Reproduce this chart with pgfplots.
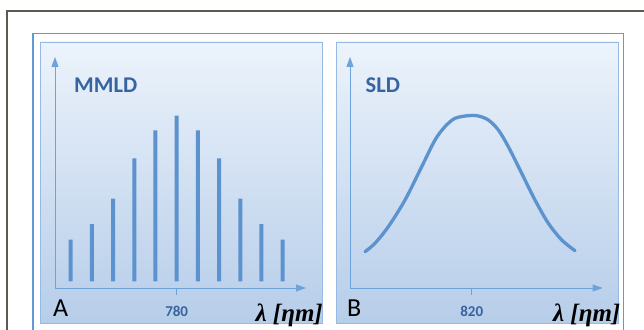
\documentclass[border=0pt]{standalone}
\usepackage{pgfplots}
\pgfplotsset{compat=1.18}
\usetikzlibrary{arrows.meta}
\usepackage{fontspec}
\setmainfont{Carlito}
\newfontfamily\lbi{Liberation Serif}[BoldItalicFont={* Bold Italic}]
\definecolor{barc}{RGB}{92,146,206}
\definecolor{axc}{RGB}{110,162,218}
\definecolor{ptop}{RGB}{236,243,251}
\definecolor{pbot}{RGB}{182,205,233}
\definecolor{pedge}{RGB}{150,186,228}
\definecolor{framec}{RGB}{98,152,214}
\definecolor{brd}{RGB}{92,90,80}
\definecolor{txt}{RGB}{55,100,160}
\pgfplotsset{myax/.style={
  scale only axis, anchor=south west, enlargelimits=false, clip=false,
  axis lines=left,
  axis line style={axc, line width=0.9pt, -{Triangle[width=7pt,length=10pt]}},
  ytick=\empty, tick align=outside, major tick length=7pt,
  xtick style={axc, line width=0.8pt},
  xticklabel style={font=\bfseries\fontsize{15}{15}\selectfont, text=txt, yshift=-8pt},
  ymin=-0.04, ymax=1.354, height=231pt,
}}
\begin{document}
\begin{tikzpicture}
\useasboundingbox (0,0) rectangle (644pt,329pt);
% outer frames
\draw[brd, line width=2pt] (7pt,318pt) rectangle (660pt,-20pt);
\draw[framec, line width=1.8pt] (33pt,295.5pt) rectangle (623.5pt,-20pt);
% panels
\shade[top color=ptop, bottom color=pbot, draw=pedge, line width=0.8pt] (40pt,287pt) rectangle (322pt,5.5pt);
\shade[top color=ptop, bottom color=pbot, draw=pedge, line width=0.8pt] (336pt,287pt) rectangle (618.5pt,5.5pt);
% Panel A
\begin{axis}[myax, at={(55pt,41pt)}, width=251pt,
  xmin=774.26, xmax=786.10, xtick={780}, xticklabels={\textbf{780}}]
\addplot[ybar, bar width=4pt, fill=barc, draw=none] coordinates {
(775,0.252) (776,0.346) (777,0.499) (778,0.742) (779,0.911) (780,1.000)
(781,0.911) (782,0.742) (783,0.499) (784,0.346) (785,0.252)};
\end{axis}
% Panel B
\begin{axis}[myax, at={(350pt,41pt)}, width=252.7pt,
  xmin=779.43, xmax=863.67, xtick={820}, xticklabels={\textbf{820}}]
\addplot[barc, line width=3.3pt, smooth, line cap=round] coordinates {
(784.43,0.179) (787.77,0.230) (792.20,0.330) (797.77,0.491) (803.33,0.692)
(807.77,0.853) (811.10,0.934) (814.43,0.984) (818.87,1.000) (822.20,0.998)
(825.53,0.974) (828.87,0.914) (832.20,0.813) (836.67,0.652) (841.10,0.491)
(845.53,0.351) (850.00,0.250) (854.43,0.185)};
\end{axis}
% texts
\node[anchor=west, inner sep=0pt, text=txt, font=\bfseries\fontsize{22.5}{22.5}\selectfont] at (74pt,243.5pt) {MMLD};
\node[anchor=west, inner sep=0pt, text=txt, font=\bfseries\fontsize{22.5}{22.5}\selectfont] at (365.5pt,243.5pt) {SLD};
\node[anchor=base west, inner sep=0pt, text=black, font=\fontsize{26}{26}\selectfont] at (53pt,12.3pt) {A};
\node[anchor=base west, inner sep=0pt, text=black, font=\fontsize{26}{26}\selectfont] at (347pt,12.3pt) {B};
\node[anchor=base east, inner sep=0pt, text=black, font=\lbi\bfseries\itshape\fontsize{25}{25}\selectfont] at (323pt,8pt) {λ [ηm]};
\node[anchor=base east, inner sep=0pt, text=black, font=\lbi\bfseries\itshape\fontsize{25}{25}\selectfont] at (620.5pt,8pt) {λ [ηm]};
\end{tikzpicture}
\end{document}
